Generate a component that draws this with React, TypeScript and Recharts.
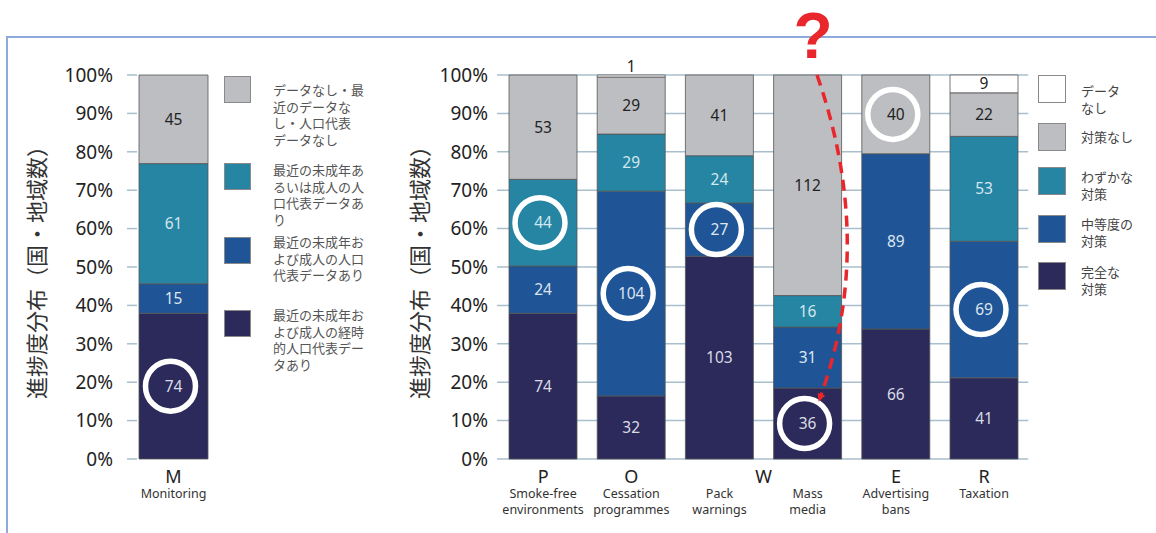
import { BarChart, Bar, XAxis, YAxis, CartesianGrid, LabelList, Label } from "recharts"

// ---- data ----
const monitorLetters = ["M"]
const monitorNames = [["Monitoring"]]
const monitorLongitudinal = [74]
const monitorRecent = [15]
const monitorPartial = [61]
const monitorNone = [45]

const powerLetters = ["P", "O", "W", "", "E", "R"]
const powerNames = [
  ["Smoke-free", "environments"],
  ["Cessation", "programmes"],
  ["Pack", "warnings"],
  ["Mass", "media"],
  ["Advertising", "bans"],
  ["Taxation"],
]
const complete = [74, 32, 103, 36, 66, 41]
const moderate = [24, 104, 27, 31, 89, 69]
const minimal = [44, 29, 24, 16, 0, 53]
const noPolicy = [53, 29, 41, 112, 40, 22]
const noData = [0, 1, 0, 0, 0, 9]

const yTicks = [0, 0.1, 0.2, 0.3, 0.4, 0.5, 0.6, 0.7, 0.8, 0.9, 1]
const yTitle = "進捗度分布（国・地域数）"

const monitorLegend = [
  ["データなし・最", "近のデータな", "し・人口代表", "データなし"],
  ["最近の未成年あ", "るいは成人の人", "口代表データあ", "り"],
  ["最近の未成年お", "よび成人の人口", "代表データあり"],
  ["最近の未成年お", "よび成人の経時", "的人口代表デー", "タあり"],
]
const powerLegend = [["データ", "なし"], ["対策なし"], ["わずかな", "対策"], ["中等度の", "対策"], ["完全な", "対策"]]

// circled values: [category index, series key]
const monitorRings: [number, string][] = [[0, "longitudinal"]]
const powerRings: [number, string][] = [
  [0, "minimal"],
  [1, "moderate"],
  [2, "moderate"],
  [3, "complete"],
  [4, "noPolicy"],
  [5, "moderate"],
]

const C_DARK = "#2c2a5a"
const C_BLUE = "#1f5596"
const C_TEAL = "#2585a3"
const C_GRAY = "#bdbec1"
const C_WHITE = "#ffffff"
const GRID = "#a9bfce"
const FONT = "'Noto Sans', 'Noto Sans CJK JP', sans-serif"
const CJK = "'Noto Sans CJK JP', 'Noto Sans', sans-serif"

// pos = category index + 1, used by the labels to find their value
const monitorData = monitorLetters.map((l, i) => ({
  key: l,
  pos: i + 1,
  longitudinal: monitorLongitudinal[i],
  recent: monitorRecent[i],
  partial: monitorPartial[i],
  none: monitorNone[i],
}))

const powerData = powerNames.map((n, i) => ({
  key: n.join(" "),
  pos: i + 1,
  complete: complete[i],
  moderate: moderate[i],
  minimal: minimal[i],
  noPolicy: noPolicy[i],
  noData: noData[i],
}))

const pct = (v: number) => `${Math.round(v * 100)}%`

const makeLabel = (values: number[], key: string, color: string, rings: [number, string][]) => (props: any) => {
  const { x, y, width, height } = props
  const index = Number(props.value) - 1
  const v = values[index]
  if (!v) return null
  const cx = Number(x) + Number(width) / 2
  const h = Math.abs(Number(height))
  const top = Math.min(Number(y), Number(y) + Number(height))
  const cy = h < 10 ? top - 9 : top + h / 2
  const ring = rings.some(([c, k]) => c === index && k === key)
  return (
    <g>
      {ring && <circle cx={cx - 3} cy={cy} r={25} fill="none" stroke="#fff" strokeWidth={5.5} />}
      <text x={cx} y={cy} dy="0.36em" textAnchor="middle" fontSize={15.5} fontFamily={FONT} fill={color}>
        {v}
      </text>
    </g>
  )
}

const makeTick = (letters: string[], names: string[][], half: number) => (props: any) => {
  const { x, y, index } = props
  const letter = letters[index]
  const shift = letter === "W" ? half : 0
  return (
    <g>
      {letter && (
        <text x={x + shift} y={y + 24} textAnchor="middle" fontSize={18} fontFamily={FONT} fill="#222">
          {letter}
        </text>
      )}
      {names[index].map((t, i) => (
        <text key={i} x={x} y={y + 39 + i * 16} textAnchor="middle" fontSize={12.5} fontFamily={FONT} fill="#333">
          {t}
        </text>
      ))}
    </g>
  )
}

const barStroke = { stroke: "#555", strokeWidth: 0.8 }

function LegendBox({ left, tops, textTops, items, colors, size, textLeft, fontSize, lineHeight, color }: any) {
  return (
    <>
      {items.map((lines: string[], i: number) => (
        <div key={i}>
          <div
            style={{
              position: "absolute",
              left,
              top: tops[i],
              width: size,
              height: size,
              boxSizing: "border-box",
              background: colors[i],
              border: "1.5px solid #8a8a8a",
            }}
          />
          <div
            style={{
              position: "absolute",
              left: textLeft,
              top: textTops[i],
              fontFamily: CJK,
              fontSize,
              lineHeight: `${lineHeight}px`,
              color,
              whiteSpace: "nowrap",
            }}
          >
            {lines.map((l, j) => (
              <div key={j}>{l}</div>
            ))}
          </div>
        </div>
      ))}
    </>
  )
}

export default function App() {
  return (
    <div style={{ position: "absolute", left: 0, top: 0, width: 1156, height: 533, background: "#fff", overflow: "hidden" }}>
      <div
        style={{
          position: "absolute",
          left: 6,
          top: 36,
          width: 1160,
          height: 510,
          borderTop: "2px solid #8eaadc",
          borderLeft: "2px solid #8eaadc",
        }}
      />

      {/* Monitoring chart */}
      <div style={{ position: "absolute", left: 0, top: 0 }}>
        <BarChart
          width={215}
          height={533}
          data={monitorData}
          stackOffset="expand"
          margin={{ top: 75, right: 5, bottom: 14, left: 0 }}
        >
          <XAxis
            dataKey="key"
            height={60}
            axisLine={false}
            tickLine={false}
            tickSize={0}
            tickMargin={0}
            interval={0}
            tick={makeTick(monitorLetters, monitorNames, 0)}
          />
          <YAxis
            width={137}
            domain={[0, 1]}
            ticks={yTicks}
            tickFormatter={pct}
            axisLine={false}
            tickSize={10}
            tickMargin={14}
            tickLine={{ stroke: GRID, strokeWidth: 1.5 }}
            tick={{ fontSize: 19, fill: "#222", fontFamily: FONT }}
            interval={0}
          >
            <Label
              value={yTitle}
              angle={-90}
              position="center"
              dx={-31}
              style={{ fontSize: 22, fill: "#333", fontFamily: CJK }}
            />
          </YAxis>
          <Bar dataKey="longitudinal" stackId="a" fill={C_DARK} barSize={69} isAnimationActive={false} {...barStroke}>
            <LabelList dataKey="pos" content={makeLabel(monitorLongitudinal, "longitudinal", "#d8dce6", monitorRings)} />
          </Bar>
          <Bar dataKey="recent" stackId="a" fill={C_BLUE} barSize={69} isAnimationActive={false} {...barStroke}>
            <LabelList dataKey="pos" content={makeLabel(monitorRecent, "recent", "#dde6f0", monitorRings)} />
          </Bar>
          <Bar dataKey="partial" stackId="a" fill={C_TEAL} barSize={69} isAnimationActive={false} {...barStroke}>
            <LabelList dataKey="pos" content={makeLabel(monitorPartial, "partial", "#d3e7ee", monitorRings)} />
          </Bar>
          <Bar dataKey="none" stackId="a" fill={C_GRAY} barSize={69} isAnimationActive={false} {...barStroke}>
            <LabelList dataKey="pos" content={makeLabel(monitorNone, "none", "#222", monitorRings)} />
          </Bar>
        </BarChart>
      </div>

      <LegendBox
        left={224}
        tops={[76, 163, 237, 310]}
        textTops={[82, 162, 234, 307]}
        items={monitorLegend}
        colors={[C_GRAY, C_TEAL, C_BLUE, C_DARK]}
        size={27}
        textLeft={273}
        fontSize={13}
        lineHeight={16.5}
        color="#555"
      />

      {/* MPOWER chart */}
      <div style={{ position: "absolute", left: 380, top: 0 }}>
        <BarChart
          width={660}
          height={533}
          data={powerData}
          stackOffset="expand"
          margin={{ top: 75, right: 11.8, bottom: 14, left: 0 }}
        >
          <CartesianGrid vertical={false} stroke={GRID} strokeWidth={1.5} />
          <XAxis
            dataKey="key"
            height={60}
            axisLine={false}
            tickLine={false}
            tickSize={0}
            tickMargin={0}
            interval={0}
            tick={makeTick(powerLetters, powerNames, 44.1)}
          />
          <YAxis
            width={119}
            domain={[0, 1]}
            ticks={yTicks}
            tickFormatter={pct}
            axisLine={false}
            tickSize={2}
            tickMargin={9}
            tickLine={{ stroke: GRID, strokeWidth: 1.5 }}
            tick={{ fontSize: 19, fill: "#222", fontFamily: FONT }}
            interval={0}
          >
            <Label
              value={yTitle}
              angle={-90}
              position="center"
              dx={-19.5}
              style={{ fontSize: 22, fill: "#333", fontFamily: CJK }}
            />
          </YAxis>
          <Bar dataKey="complete" stackId="a" fill={C_DARK} barSize={68} isAnimationActive={false} {...barStroke}>
            <LabelList dataKey="pos" content={makeLabel(complete, "complete", "#d8dce6", powerRings)} />
          </Bar>
          <Bar dataKey="moderate" stackId="a" fill={C_BLUE} barSize={68} isAnimationActive={false} {...barStroke}>
            <LabelList dataKey="pos" content={makeLabel(moderate, "moderate", "#dde6f0", powerRings)} />
          </Bar>
          <Bar dataKey="minimal" stackId="a" fill={C_TEAL} barSize={68} isAnimationActive={false} {...barStroke}>
            <LabelList dataKey="pos" content={makeLabel(minimal, "minimal", "#d3e7ee", powerRings)} />
          </Bar>
          <Bar dataKey="noPolicy" stackId="a" fill={C_GRAY} barSize={68} isAnimationActive={false} {...barStroke}>
            <LabelList dataKey="pos" content={makeLabel(noPolicy, "noPolicy", "#222", powerRings)} />
          </Bar>
          <Bar dataKey="noData" stackId="a" fill={C_WHITE} barSize={68} isAnimationActive={false} {...barStroke}>
            <LabelList dataKey="pos" content={makeLabel(noData, "noData", "#222", powerRings)} />
          </Bar>
        </BarChart>
      </div>

      <LegendBox
        left={1038}
        tops={[75, 123, 167, 215, 262]}
        textTops={[82, 128, 168, 215, 263]}
        items={powerLegend}
        colors={[C_WHITE, C_GRAY, C_TEAL, C_BLUE, C_DARK]}
        size={28}
        textLeft={1081}
        fontSize={13}
        lineHeight={17}
        color="#444"
      />

      {/* annotation */}
      <svg width={1156} height={533} style={{ position: "absolute", left: 0, top: 0, pointerEvents: "none" }}>
        <defs>
          <marker id="arr" markerWidth="10" markerHeight="10" refX="4" refY="4" orient="auto" markerUnits="userSpaceOnUse">
            <path d="M0,0 L8,4 L0,8 z" fill="#e8262c" />
          </marker>
        </defs>
        <text x={813} y={58} textAnchor="middle" fontSize={64} fontWeight="bold" fontFamily="'Liberation Sans', sans-serif" fill="#e8262c">
          ?
        </text>
        <path
          d="M 817 75 Q 876 244 820 398"
          fill="none"
          stroke="#e8262c"
          strokeWidth={3.5}
          strokeDasharray="11 7"
          markerEnd="url(#arr)"
        />
      </svg>
    </div>
  )
}
